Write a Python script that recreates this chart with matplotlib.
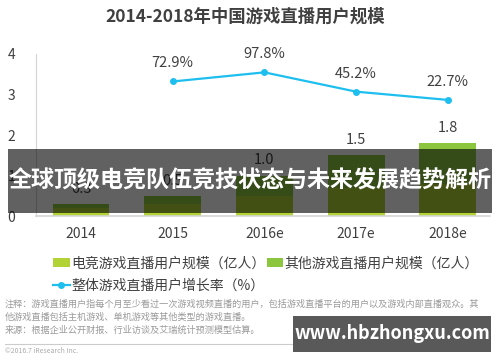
import matplotlib
matplotlib.use("Agg")
import matplotlib.pyplot as plt
from matplotlib.patches import Rectangle
import numpy as np

plt.rcParams['font.family'] = ['Noto Sans CJK SC', 'DejaVu Sans']

years = ["2014", "2015", "2016e", "2017e", "2018e"]
esports_users = [0.2, 0.3, 0.5, 0.7, 0.8]
other_users = [0.1, 0.2, 0.5, 0.8, 1.0]
total_labels = ["0.3", "0.5", "1.0", "1.5", "1.8"]
growth_years = ["2015", "2016e", "2017e", "2018e"]
growth_rate = [72.9, 97.8, 45.2, 22.7]

text_col = "#404040"
c_esports = "#b2d235"
c_other = "#8cc63f"
c_line = "#1ebfef"

fig = plt.figure(figsize=(5, 3.62), dpi=100)
ax = fig.add_axes([0.072, 0.403, 0.908, 0.448])

x = np.arange(len(years))
b1 = ax.bar(x, esports_users, width=0.62, color=c_esports, zorder=2)
b2 = ax.bar(x, other_users, width=0.62, bottom=esports_users, color=c_other, zorder=2)

totals = np.array(esports_users) + np.array(other_users)
for xi, t, lab in zip(x, totals, total_labels):
    ax.annotate(lab, (xi, t), xytext=(0, 6), textcoords="offset points",
                ha="center", va="bottom", fontsize=10.5, color=text_col)

ax.set_xlim(-0.49, 4.46)
ax.set_ylim(0, 4)
ax.set_yticks([0, 1, 2, 3, 4])
ax.set_xticks(x)
ax.set_xticklabels(years)
ax.tick_params(axis="both", length=0, labelsize=10, colors=text_col)
ax.tick_params(axis="y", pad=15)
ax.tick_params(axis="x", pad=8)
for s in ["top", "right"]:
    ax.spines[s].set_visible(False)
ax.spines["left"].set_color("#d4d4d4")
ax.spines["bottom"].set_color("#d4d4d4")
ax.spines["bottom"].set_linewidth(1.2)

ax2 = ax.twinx()
gx = [years.index(y) for y in growth_years]
ln, = ax2.plot(gx, growth_rate, color=c_line, lw=1.6, marker="o", ms=4, zorder=3)
ax2.set_ylim(-294, 148)
ax2.axis("off")
for xi, v in zip(gx, growth_rate):
    ax2.annotate(f"{v}%", (xi, v), xytext=(0, 8), textcoords="offset points",
                 ha="center", va="bottom", fontsize=10.5, color=text_col)

fig.text(0.49, 0.953, "2014-2018年中国游戏直播用户规模", ha="center", va="center",
         fontsize=12.5, fontweight="bold", color=text_col)

fig.legend([b1, ln, b2],
           ["电竞游戏直播用户规模（亿人）", "整体游戏直播用户增长率（%）", "其他游戏直播用户规模（亿人）"],
           ncol=2, loc="upper left", bbox_to_anchor=(0.092, 0.31), frameon=False,
           fontsize=10, labelcolor=text_col, handlelength=1.2, handleheight=0.6,
           handletextpad=0.1, columnspacing=0.1, labelspacing=0.6, borderpad=0)

note = ("注释：游戏直播用户指每个月至少看过一次游戏视频直播的用户，包括游戏直播平台的用户以及游戏内部直播观众。其\n"
        "他游戏直播包括主机游戏、单机游戏等其他类型的游戏直播。\n"
        "来源：根据企业公开财报、行业访谈及艾瑞统计预测模型估算。")
fig.text(0.01, 0.124, note, ha="left", va="center", fontsize=6.6, color="#9a9a9a",
         linespacing=1.5)
fig.add_artist(plt.Line2D([0.01, 0.98], [0.05, 0.05], color="#cccccc", lw=0.8))
fig.text(0.01, 0.042, "©2016.7 iResearch Inc.", ha="left", va="top", fontsize=5,
         color="#aaaaaa")

# overlay banner
fig.add_artist(Rectangle((0.016, 0.412), 0.968, 0.177, transform=fig.transFigure,
                         facecolor="black", alpha=0.62, edgecolor="none", zorder=10))
fig.text(0.5, 0.5, "全球顶级电竞队伍竞技状态与未来发展趋势解析", ha="center", va="center",
         fontsize=16.6, fontweight="bold", color="white", zorder=11)

# watermark box
fig.add_artist(Rectangle((0.586, 0.028), 0.396, 0.099, transform=fig.transFigure,
                         facecolor="#595959", edgecolor="none", zorder=10))
fig.text(0.784, 0.078, "www.hbzhongxu.com", ha="center", va="center",
         fontsize=13, fontweight="bold", color="white", zorder=11)

fig.savefig("out.png", dpi=100)
